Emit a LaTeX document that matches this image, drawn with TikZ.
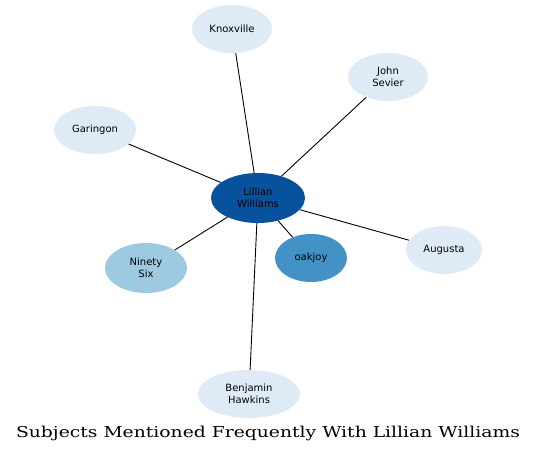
\documentclass[tikz,border=0pt]{standalone}
\usepackage{fontspec}
\setsansfont{DejaVu Sans}
\newfontfamily\titlefont[FakeStretch=1.25]{DejaVu Serif}
\usetikzlibrary{shapes.geometric}
\definecolor{Hub}{HTML}{08519C}
\definecolor{Mid}{HTML}{4292C6}
\definecolor{Soft}{HTML}{9ECAE1}
\definecolor{Pale}{HTML}{DEEBF7}
\begin{document}
\begin{tikzpicture}[x=1pt,y=-1pt,
    subj/.style={ellipse,fill=Pale,inner sep=0pt,minimum width=80,minimum height=48,
      align=center,font=\sffamily\fontsize{10}{11.5}\selectfont},
    link/.style={draw=black,line width=0.9pt}]
  \useasboundingbox (0,0) rectangle (537,455);
  % centre person
  \node[subj,fill=Hub,minimum width=94,minimum height=50] (lillian) at (258,198) {Lillian\\Williams};
  % subjects round it
  \node[subj] (knoxville) at (232,29) {Knoxville};
  \node[subj] (sevier) at (388,77) {John\\Sevier};
  \node[subj,minimum width=82] (garingon) at (95,130) {Garingon};
  \node[subj,minimum width=76] (augusta) at (444,250) {Augusta};
  \node[subj,fill=Mid,minimum width=72] (oakjoy) at (311,258) {oakjoy};
  \node[subj,fill=Soft,minimum width=82,minimum height=50] (ninety) at (146,268) {Ninety\\Six};
  \node[subj,minimum width=102] (hawkins) at (249,394) {Benjamin\\Hawkins};
  \foreach \n in {knoxville,sevier,garingon,augusta,oakjoy,ninety,hawkins}
    \draw[link] (lillian) -- (\n);
  \node[font=\titlefont\fontsize{15}{17}\selectfont] (title) at (268,433) {Subjects Mentioned Frequently With Lillian Williams};
\end{tikzpicture}
\end{document}
